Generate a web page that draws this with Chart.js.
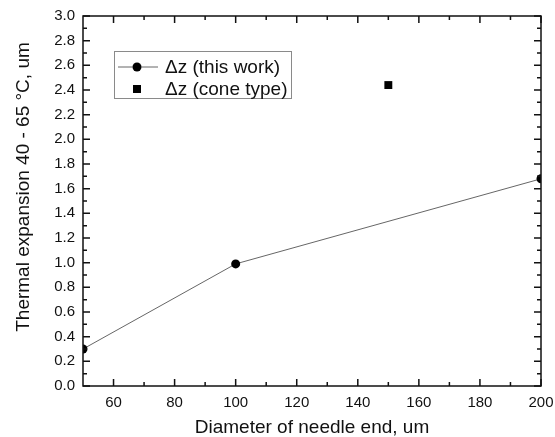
<!DOCTYPE html>
<html>
<head>
<meta charset="utf-8">
<title>Thermal expansion vs needle diameter</title>
<script src="https://cdn.jsdelivr.net/npm/chart.js@4.4.1/dist/chart.umd.min.js"></script>
<style>
  html, body { margin: 0; padding: 0; background: #fff; }
  canvas { display: block; }
</style>
</head>
<body>
<canvas id="chart" width="555" height="437"></canvas>
<script>
// measured data
const diameters = [50, 100, 200];
const expansion = [0.30, 0.99, 1.68];
const coneDiameter = [150];
const coneExpansion = [2.44];

const xTickValues = [60, 80, 100, 120, 140, 160, 180, 200];
const yTickValues = [0.0, 0.2, 0.4, 0.6, 0.8, 1.0, 1.2, 1.4, 1.6, 1.8, 2.0, 2.2, 2.4, 2.6, 2.8, 3.0];

const FONT = "'Liberation Sans', Arial, sans-serif";

// box frame with inward major/minor ticks on all four sides
const frameTicks = {
  id: 'frameTicks',
  afterDatasetsDraw(chart) {
    const { ctx, chartArea: a, scales: { x, y } } = chart;
    ctx.save();
    ctx.strokeStyle = '#111';
    ctx.lineWidth = 1.5;
    ctx.strokeRect(a.left, a.top, a.right - a.left, a.bottom - a.top);

    const major = 7, minor = 4;
    const minorOf = vals => vals.slice(1).map((v, i) => (v + vals[i]) / 2);
    const xMinor = minorOf([40].concat(xTickValues)).filter(v => v > x.min);
    const yMinor = minorOf(yTickValues);

    ctx.beginPath();
    const vTick = (v, len) => {
      const px = x.getPixelForValue(v);
      ctx.moveTo(px, a.bottom); ctx.lineTo(px, a.bottom - len);
      ctx.moveTo(px, a.top); ctx.lineTo(px, a.top + len);
    };
    const hTick = (v, len) => {
      const py = y.getPixelForValue(v);
      ctx.moveTo(a.left, py); ctx.lineTo(a.left + len, py);
      ctx.moveTo(a.right, py); ctx.lineTo(a.right - len, py);
    };
    xTickValues.forEach(v => vTick(v, major));
    xMinor.forEach(v => vTick(v, minor));
    yTickValues.forEach(v => hTick(v, major));
    yMinor.forEach(v => hTick(v, minor));
    ctx.stroke();
    ctx.restore();
  }
};

// rotated y title, sits a bit above the plot centre
const yTitle = {
  id: 'yTitle',
  afterDraw(chart) {
    const { ctx } = chart;
    ctx.save();
    ctx.translate(24, 187);
    ctx.rotate(-Math.PI / 2);
    ctx.font = `19px ${FONT}`;
    ctx.fillStyle = '#111';
    ctx.textAlign = 'center';
    ctx.textBaseline = 'middle';
    ctx.fillText('Thermal expansion 40 - 65 \u00B0C, um', 0, 0);
    ctx.restore();
  }
};

// framed legend in the upper left of the plot
const boxLegend = {
  id: 'boxLegend',
  afterDraw(chart) {
    const { ctx, chartArea: a } = chart;
    const left = a.left + 31, top = a.top + 35;
    ctx.save();
    ctx.fillStyle = '#fff';
    ctx.fillRect(left, top, 177, 47);
    ctx.strokeStyle = '#8a8a8a';
    ctx.lineWidth = 1;
    ctx.strokeRect(left + 0.5, top + 0.5, 177, 47);

    ctx.font = `19px ${FONT}`;
    ctx.textBaseline = 'middle';
    chart.data.datasets.forEach((ds, i) => {
      const cy = top + 16 + i * 22;
      const cx = left + 23;
      if (ds.showLine !== false) {
        ctx.strokeStyle = ds.borderColor;
        ctx.lineWidth = 1;
        ctx.beginPath();
        ctx.moveTo(left + 4, cy);
        ctx.lineTo(left + 44, cy);
        ctx.stroke();
      }
      Chart.helpers.drawPoint(ctx, {
        pointStyle: ds.pointStyle,
        radius: ds.pointRadius,
        rotation: 0,
        borderWidth: 0
      }, cx, cy);
      ctx.fillStyle = '#000';
      ctx.fill();
      ctx.fillStyle = '#111';
      ctx.fillText(ds.label, left + 51, cy + 1);
    });
    ctx.restore();
  }
};

new Chart(document.getElementById('chart'), {
  type: 'scatter',
  data: {
    datasets: [
      {
        label: '\u0394z (this work)',
        data: diameters.map((d, i) => ({ x: d, y: expansion[i] })),
        showLine: true,
        borderColor: '#666',
        borderWidth: 1,
        pointStyle: 'circle',
        pointRadius: 4.5,
        pointBackgroundColor: '#000',
        pointBorderWidth: 0
      },
      {
        label: '\u0394z (cone type)',
        data: coneDiameter.map((d, i) => ({ x: d, y: coneExpansion[i] })),
        showLine: false,
        pointStyle: 'rect',
        pointRadius: 5.6,
        pointBackgroundColor: '#000',
        pointBorderWidth: 0
      }
    ]
  },
  options: {
    responsive: false,
    animation: false,
    layout: { padding: { top: 16, right: 14, left: 0, bottom: 0 } },
    plugins: {
      legend: { display: false },
      tooltip: { enabled: false }
    },
    scales: {
      x: {
        type: 'linear',
        min: 50,
        max: 200,
        border: { display: false },
        grid: { display: false, drawTicks: false },
        afterBuildTicks: s => { s.ticks = xTickValues.map(v => ({ value: v })); },
        afterFit: s => { s.height = 51; s.paddingLeft = 0; s.paddingRight = 0; },
        ticks: {
          color: '#111',
          padding: 8,
          maxRotation: 0,
          font: { family: FONT, size: 15 }
        },
        title: {
          display: true,
          text: 'Diameter of needle end, um',
          color: '#111',
          padding: { top: 0, bottom: 0 },
          font: { family: FONT, size: 19, lineHeight: 1 }
        }
      },
      y: {
        type: 'linear',
        min: 0,
        max: 3,
        border: { display: false },
        grid: { display: false, drawTicks: false },
        afterBuildTicks: s => { s.ticks = yTickValues.map(v => ({ value: v })); },
        afterFit: s => { s.width = 83; s.paddingTop = 0; s.paddingBottom = 0; },
        ticks: {
          color: '#111',
          padding: 8,
          font: { family: FONT, size: 15 },
          callback: v => v.toFixed(1)
        }
      }
    }
  },
  plugins: [frameTicks, yTitle, boxLegend]
});
</script>
</body>
</html>
